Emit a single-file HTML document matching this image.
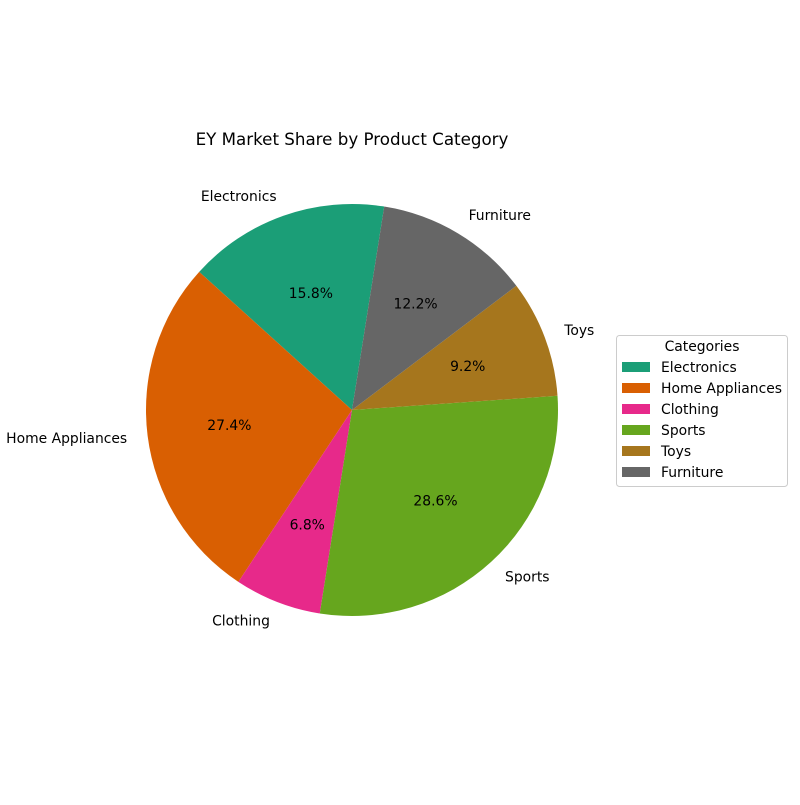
<!DOCTYPE html>
<html><head><meta charset="utf-8"><style>
body{margin:0;background:#fff}
svg{font-family:"DejaVu Sans","Liberation Sans",sans-serif}
</style></head><body>
<svg id="chart" width="800" height="800" viewBox="0 0 800 800">
<rect width="800" height="800" fill="#fff"/>
<text x="352" y="145" text-anchor="middle" font-size="16.7" fill="#000">EY Market Share by Product Category</text>
<g id="slices"></g>
<g id="labels"></g>
<g id="legend">
<rect x="616.5" y="335.5" width="171" height="151" rx="3" fill="#fff" stroke="#ccc"/>
<text x="702" y="351" text-anchor="middle" font-size="13.9">Categories</text>
</g>
</svg>
<script>
const categories=["Electronics","Home Appliances","Clothing","Sports","Toys","Furniture"];
const shares=[15.8,27.4,6.8,28.6,9.2,12.2];
const colors=["#1b9e77","#d95f02","#e7298a","#66a61e","#a6761d","#666666"];
const cx=352,cy=410,R=206,startAngle=81;
const NS="http://www.w3.org/2000/svg";
const total=shares.reduce((a,b)=>a+b,0);
function pt(deg,r){const a=deg*Math.PI/180;return [cx+r*Math.cos(a),cy-r*Math.sin(a)];}
const gS=document.getElementById('slices'),gL=document.getElementById('labels'),gLeg=document.getElementById('legend');
let ang=startAngle;
shares.forEach((v,i)=>{
  const span=v/total*360,a0=ang,a1=ang+span;ang=a1;
  const p0=pt(a0,R),p1=pt(a1,R);
  const path=document.createElementNS(NS,'path');
  path.setAttribute('d',`M${cx},${cy} L${p0[0]},${p0[1]} A${R},${R} 0 ${span>180?1:0} 0 ${p1[0]},${p1[1]} Z`);
  path.setAttribute('fill',colors[i]);
  
  
  gS.appendChild(path);
  const mid=(a0+a1)/2;
  const lp=pt(mid,R*1.1);
  const t=document.createElementNS(NS,'text');
  const c=Math.cos(mid*Math.PI/180);
  t.setAttribute('x',lp[0]);t.setAttribute('y',lp[1]+4.5);
  t.setAttribute('text-anchor',c>0.01?'start':(c<-0.01?'end':'middle'));
  t.setAttribute('font-size','13.9');
  t.textContent=categories[i];
  
  
  gL.appendChild(t);
  const pp=pt(mid,R*0.6);
  const tp=document.createElementNS(NS,'text');
  tp.setAttribute('x',pp[0]);tp.setAttribute('y',pp[1]+4.5);
  tp.setAttribute('text-anchor','middle');tp.setAttribute('font-size','13.9');
  tp.textContent=v.toFixed(1)+'%';
  
  
  gL.appendChild(tp);
  const y=362+i*21;
  const r=document.createElementNS(NS,'rect');
  r.setAttribute('x',622);r.setAttribute('y',y);r.setAttribute('width',28);r.setAttribute('height',10);
  r.setAttribute('fill',colors[i]);
  
  
  gLeg.appendChild(r);
  const lt=document.createElementNS(NS,'text');
  lt.setAttribute('x',661);lt.setAttribute('y',y+10);lt.setAttribute('font-size','13.9');
  lt.textContent=categories[i];
  
  
  gLeg.appendChild(lt);
});
</script>
</body></html>
